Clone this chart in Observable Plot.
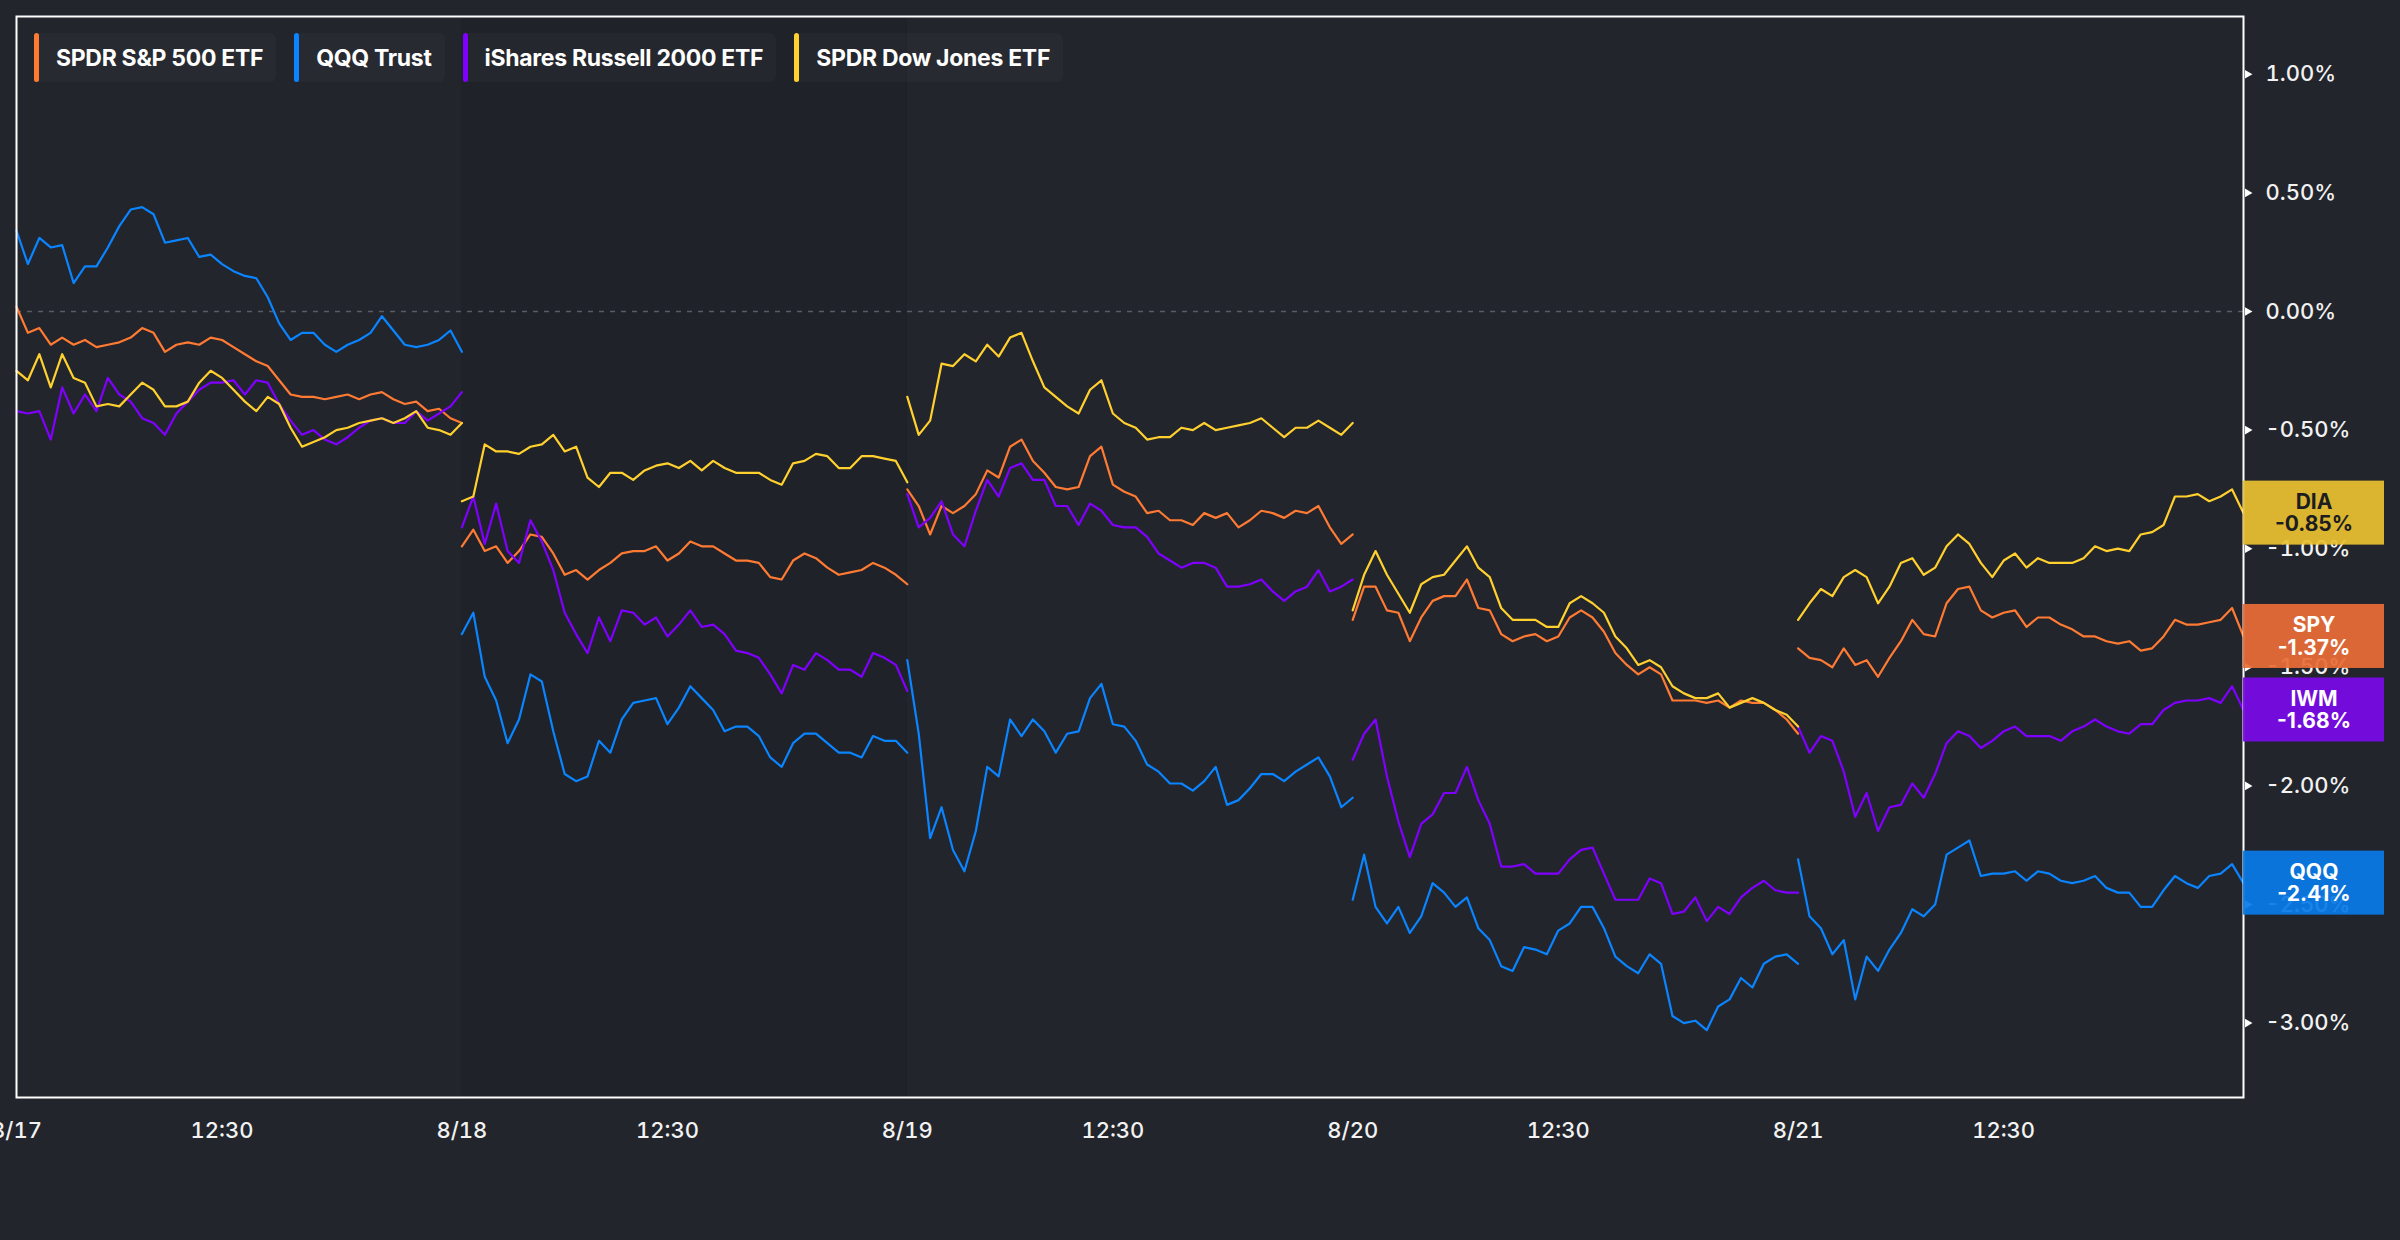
<!DOCTYPE html>
<html>
<head>
<meta charset="utf-8">
<script src="https://cdn.jsdelivr.net/npm/d3@7"></script>
<script src="https://cdn.jsdelivr.net/npm/@observablehq/plot@0.6"></script>
<style>
  html, body { margin: 0; padding: 0; background: #22252c; }
  body { width: 2400px; height: 1240px; overflow: hidden; font-family: Inter, "Noto Sans", sans-serif; }
  #wrap { position: relative; width: 2400px; height: 1240px; }
  #legend { position: absolute; top: 33px; left: 34px; display: flex; gap: 18px; }
  .item { display: flex; align-items: center; height: 49px; background: rgba(255,255,255,0.022); border-radius: 6px; padding-right: 13px; }
  .sw { width: 5px; height: 49px; border-radius: 3px; }
  .lab { margin-left: 17px; color: #ffffff; font-size: 23px; font-weight: 700; letter-spacing: -0.3px; }
</style>
</head>
<body>
<div id="wrap"><div id="legend"></div></div>
<script>
// ---------- data ----------
const days = ["8/17", "8/18", "8/19", "8/20", "8/21"];
// minutes after 9:30 open for each sampled point
const minutes = [0,10,20,30,40,50,60,70,80,90,100,110,120,130,140,150,160,170,180,190,200,210,220,230,240,250,260,270,280,290,300,310,320,330,340,350,360,370,380,390];
const sessionMinutes = 390;

const tickers = ["SPY", "QQQ", "IWM", "DIA"];
const names = ["SPDR S&P 500 ETF", "QQQ Trust", "iShares Russell 2000 ETF", "SPDR Dow Jones ETF"];
const lineColors = ["#ff7a33", "#0a84ff", "#8000ff", "#ffd02e"];
const boxColors = ["#e96d37", "#0a7be8", "#7a0be8", "#e9c12f"];
const boxText = ["#ffffff", "#ffffff", "#ffffff", "#1b1d22"];

// % change, one row per day
const spy = [
  [0.02,-0.09,-0.07,-0.14,-0.11,-0.14,-0.12,-0.15,-0.14,-0.13,-0.11,-0.07,-0.09,-0.17,-0.14,-0.13,-0.14,-0.11,-0.12,-0.15,-0.18,-0.21,-0.23,-0.29,-0.35,-0.36,-0.36,-0.37,-0.36,-0.35,-0.37,-0.35,-0.34,-0.37,-0.39,-0.38,-0.42,-0.41,-0.45,-0.47],
  [-0.99,-0.92,-1.01,-0.99,-1.06,-1.01,-0.94,-0.95,-1.02,-1.11,-1.09,-1.13,-1.09,-1.06,-1.02,-1.01,-1.01,-0.99,-1.05,-1.02,-0.97,-0.99,-0.99,-1.02,-1.05,-1.05,-1.06,-1.12,-1.13,-1.05,-1.02,-1.04,-1.08,-1.11,-1.10,-1.09,-1.06,-1.08,-1.11,-1.15],
  [-0.75,-0.82,-0.94,-0.82,-0.85,-0.82,-0.77,-0.67,-0.70,-0.57,-0.54,-0.63,-0.68,-0.74,-0.75,-0.74,-0.61,-0.57,-0.73,-0.76,-0.78,-0.85,-0.84,-0.88,-0.88,-0.90,-0.85,-0.87,-0.85,-0.91,-0.88,-0.84,-0.85,-0.87,-0.84,-0.85,-0.82,-0.91,-0.98,-0.94],
  [-1.30,-1.16,-1.16,-1.26,-1.27,-1.39,-1.29,-1.22,-1.20,-1.20,-1.13,-1.25,-1.26,-1.36,-1.39,-1.37,-1.36,-1.39,-1.37,-1.29,-1.26,-1.29,-1.35,-1.44,-1.49,-1.53,-1.50,-1.53,-1.64,-1.64,-1.64,-1.65,-1.64,-1.67,-1.64,-1.65,-1.65,-1.68,-1.72,-1.78],
  [-1.42,-1.46,-1.47,-1.50,-1.42,-1.49,-1.47,-1.54,-1.46,-1.39,-1.30,-1.36,-1.37,-1.23,-1.17,-1.16,-1.26,-1.29,-1.27,-1.26,-1.33,-1.29,-1.29,-1.32,-1.34,-1.37,-1.37,-1.39,-1.40,-1.39,-1.43,-1.42,-1.37,-1.30,-1.32,-1.32,-1.31,-1.30,-1.25,-1.37]
];
const qqq = [
  [0.34,0.20,0.31,0.27,0.28,0.12,0.19,0.19,0.27,0.36,0.43,0.44,0.41,0.29,0.30,0.31,0.23,0.24,0.20,0.17,0.15,0.14,0.06,-0.05,-0.12,-0.09,-0.09,-0.14,-0.17,-0.14,-0.12,-0.09,-0.02,-0.08,-0.14,-0.15,-0.14,-0.12,-0.08,-0.17],
  [-1.36,-1.27,-1.54,-1.64,-1.82,-1.72,-1.53,-1.56,-1.77,-1.95,-1.98,-1.96,-1.81,-1.86,-1.72,-1.65,-1.64,-1.63,-1.74,-1.67,-1.58,-1.63,-1.68,-1.77,-1.75,-1.75,-1.79,-1.88,-1.92,-1.82,-1.78,-1.78,-1.82,-1.86,-1.86,-1.88,-1.79,-1.81,-1.81,-1.86],
  [-1.47,-1.78,-2.22,-2.09,-2.27,-2.36,-2.19,-1.92,-1.96,-1.72,-1.79,-1.72,-1.77,-1.86,-1.78,-1.77,-1.63,-1.57,-1.74,-1.75,-1.81,-1.91,-1.94,-1.99,-1.99,-2.02,-1.98,-1.92,-2.08,-2.06,-2.01,-1.95,-1.95,-1.98,-1.94,-1.91,-1.88,-1.96,-2.09,-2.05],
  [-2.48,-2.29,-2.51,-2.58,-2.51,-2.62,-2.55,-2.41,-2.45,-2.51,-2.47,-2.60,-2.65,-2.76,-2.78,-2.68,-2.69,-2.71,-2.61,-2.58,-2.51,-2.51,-2.60,-2.72,-2.76,-2.79,-2.71,-2.75,-2.97,-3.00,-2.99,-3.03,-2.93,-2.90,-2.81,-2.85,-2.75,-2.72,-2.71,-2.75],
  [-2.31,-2.55,-2.60,-2.71,-2.65,-2.90,-2.72,-2.78,-2.69,-2.62,-2.52,-2.55,-2.50,-2.29,-2.26,-2.23,-2.38,-2.37,-2.37,-2.36,-2.40,-2.36,-2.37,-2.40,-2.41,-2.40,-2.38,-2.43,-2.45,-2.45,-2.51,-2.51,-2.44,-2.38,-2.41,-2.43,-2.38,-2.37,-2.33,-2.41]
];
const iwm = [
  [-0.42,-0.43,-0.42,-0.54,-0.32,-0.43,-0.35,-0.42,-0.28,-0.35,-0.38,-0.45,-0.47,-0.52,-0.43,-0.38,-0.33,-0.30,-0.30,-0.29,-0.35,-0.29,-0.30,-0.39,-0.46,-0.52,-0.50,-0.54,-0.56,-0.53,-0.49,-0.46,-0.45,-0.47,-0.47,-0.42,-0.46,-0.43,-0.40,-0.34],
  [-0.91,-0.78,-0.98,-0.81,-1.01,-1.06,-0.88,-0.97,-1.09,-1.27,-1.36,-1.44,-1.29,-1.39,-1.26,-1.27,-1.32,-1.29,-1.37,-1.32,-1.26,-1.33,-1.32,-1.36,-1.43,-1.44,-1.46,-1.53,-1.61,-1.49,-1.51,-1.44,-1.47,-1.51,-1.51,-1.54,-1.44,-1.46,-1.49,-1.60],
  [-0.77,-0.91,-0.87,-0.80,-0.94,-0.99,-0.84,-0.71,-0.78,-0.66,-0.64,-0.71,-0.71,-0.82,-0.82,-0.90,-0.81,-0.84,-0.90,-0.91,-0.91,-0.95,-1.02,-1.05,-1.08,-1.06,-1.06,-1.08,-1.16,-1.16,-1.15,-1.13,-1.18,-1.22,-1.18,-1.16,-1.09,-1.18,-1.16,-1.13],
  [-1.89,-1.78,-1.72,-1.96,-2.15,-2.30,-2.16,-2.12,-2.03,-2.03,-1.92,-2.06,-2.16,-2.34,-2.34,-2.33,-2.37,-2.37,-2.37,-2.31,-2.27,-2.26,-2.37,-2.48,-2.48,-2.48,-2.39,-2.41,-2.54,-2.53,-2.47,-2.57,-2.51,-2.54,-2.47,-2.43,-2.40,-2.44,-2.45,-2.45],
  [-1.75,-1.86,-1.79,-1.81,-1.94,-2.13,-2.03,-2.19,-2.09,-2.08,-1.99,-2.05,-1.95,-1.82,-1.77,-1.79,-1.84,-1.81,-1.77,-1.75,-1.79,-1.79,-1.79,-1.81,-1.77,-1.75,-1.72,-1.75,-1.77,-1.78,-1.74,-1.74,-1.68,-1.65,-1.64,-1.64,-1.63,-1.65,-1.58,-1.68]
];
const dia = [
  [-0.25,-0.29,-0.18,-0.32,-0.18,-0.28,-0.30,-0.40,-0.39,-0.40,-0.35,-0.30,-0.33,-0.40,-0.40,-0.38,-0.30,-0.25,-0.28,-0.33,-0.38,-0.42,-0.36,-0.39,-0.49,-0.57,-0.55,-0.53,-0.50,-0.49,-0.47,-0.46,-0.45,-0.47,-0.45,-0.42,-0.49,-0.50,-0.52,-0.47],
  [-0.80,-0.78,-0.56,-0.59,-0.59,-0.60,-0.57,-0.56,-0.52,-0.59,-0.57,-0.70,-0.74,-0.68,-0.68,-0.71,-0.67,-0.65,-0.64,-0.66,-0.63,-0.67,-0.63,-0.66,-0.68,-0.68,-0.68,-0.71,-0.73,-0.64,-0.63,-0.60,-0.61,-0.66,-0.66,-0.61,-0.61,-0.62,-0.63,-0.72],
  [-0.36,-0.52,-0.46,-0.22,-0.23,-0.18,-0.21,-0.14,-0.19,-0.11,-0.09,-0.21,-0.32,-0.36,-0.40,-0.43,-0.33,-0.29,-0.43,-0.47,-0.49,-0.54,-0.53,-0.53,-0.49,-0.50,-0.47,-0.50,-0.49,-0.48,-0.47,-0.45,-0.49,-0.53,-0.49,-0.49,-0.46,-0.49,-0.52,-0.47],
  [-1.26,-1.11,-1.01,-1.11,-1.19,-1.27,-1.15,-1.12,-1.11,-1.05,-0.99,-1.08,-1.12,-1.25,-1.30,-1.30,-1.30,-1.33,-1.33,-1.23,-1.20,-1.23,-1.27,-1.37,-1.42,-1.49,-1.47,-1.50,-1.58,-1.61,-1.63,-1.63,-1.61,-1.67,-1.65,-1.63,-1.65,-1.68,-1.70,-1.75],
  [-1.30,-1.23,-1.17,-1.20,-1.12,-1.09,-1.12,-1.23,-1.16,-1.06,-1.04,-1.11,-1.08,-0.99,-0.94,-0.98,-1.06,-1.12,-1.05,-1.02,-1.08,-1.04,-1.06,-1.06,-1.06,-1.04,-0.99,-1.01,-1.00,-1.01,-0.94,-0.93,-0.90,-0.78,-0.78,-0.77,-0.80,-0.78,-0.75,-0.85]
];
const lastValues = [-1.37, -2.41, -1.68, -0.85];

const yTicks = [1, 0.5, 0, -0.5, -1, -1.5, -2, -2.5, -3];
const xTickLabels = ["8/17", "12:30", "8/18", "12:30", "8/19", "12:30", "8/20", "12:30", "8/21", "12:30"];
const xTickMinutes = [0, 180, 0, 180, 0, 180, 0, 180, 0, 180];
const xTickDays = [0, 0, 1, 1, 2, 2, 3, 3, 4, 4];
const highlightDay = 1;

// ---------- build ----------
const seriesData = [spy, qqq, iwm, dia];
const rows = [];
seriesData.forEach((s, si) => {
  s.forEach((dayVals, d) => {
    if (dayVals.length !== minutes.length) throw new Error(tickers[si] + " day " + d + " has " + dayVals.length);
    dayVals.forEach((v, k) => rows.push({series: tickers[si], key: tickers[si] + d, t: d + minutes[k] / sessionMinutes, v}));
  });
});

const W = 2400, H = 1240;
const mTop = 16, mLeft = 16, mRight = 157, mBottom = 143;
const yMin = -3.3137, yMax = 1.2437;
const plotW = W - mLeft - mRight, plotH = H - mTop - mBottom;
const pxPerDay = plotW / days.length;
const pxPerUnit = plotH / (yMax - yMin);
const boxW = 141 / pxPerDay, boxHalf = 32 / pxPerUnit;

const xTicks = xTickDays.map((d, i) => d + xTickMinutes[i] / sessionMinutes);
const boxes = tickers.map((t, i) => ({t, v: lastValues[i], i, label: t + "\n" + lastValues[i].toFixed(2) + "%"}));
const colorScale = {domain: tickers, range: lineColors};

const chart = Plot.plot({
  width: W, height: H,
  marginTop: mTop, marginLeft: mLeft, marginRight: mRight, marginBottom: mBottom,
  style: {background: "transparent", fontFamily: "Inter, sans-serif"},
  x: {domain: [0, days.length], axis: null},
  y: {domain: [yMin, yMax], axis: null},
  color: colorScale,
  marks: [
    Plot.rect([highlightDay], {x1: d => d, x2: d => d + 1, fill: "#1f2228"}),
    Plot.ruleY([0], {stroke: "#575c66", strokeWidth: 1.5, strokeDasharray: "5,6"}),
    Plot.line(rows, {x: "t", y: "v", z: "key", stroke: "series", strokeWidth: 2.2, strokeLinejoin: "round"}),
    Plot.frame({stroke: "#ffffff", strokeWidth: 2}),
    Plot.axisY(yTicks, {anchor: "right", label: null, tickSize: 0, tickPadding: 22, fontSize: 22, fontWeight: 500, fill: "#f2f2f2", tickFormat: d => d.toFixed(2) + "%"}),
    Plot.dot(yTicks, {x: days.length, y: d => d, symbol: "triangle", rotate: 90, r: 3.2, fill: "#ffffff", dx: 4}),
    Plot.axisX(xTicks, {anchor: "bottom", label: null, tickSize: 0, tickPadding: 25, fontSize: 22, fontWeight: 500, fill: "#f2f2f2", tickFormat: (d, i) => xTickLabels[i]}),
    Plot.rect(boxes, {x1: days.length, x2: days.length + boxW, y1: d => d.v - boxHalf, y2: d => d.v + boxHalf, fill: d => boxColors[d.i], fillOpacity: 0.93}),
    Plot.text(boxes, {x: days.length + boxW / 2, y: "v", text: "label", fill: d => boxText[d.i], fontSize: 21, fontWeight: 700, lineHeight: 1.05})
  ]
});
document.getElementById("wrap").prepend(chart);

const legend = document.getElementById("legend");
names.forEach((n, i) => {
  const it = document.createElement("div");
  it.className = "item";
  it.innerHTML = `<div class="sw" style="background:${lineColors[i]}"></div><div class="lab">${n.replace(/&/g, "&amp;")}</div>`;
  legend.appendChild(it);
});
</script>
</body>
</html>
